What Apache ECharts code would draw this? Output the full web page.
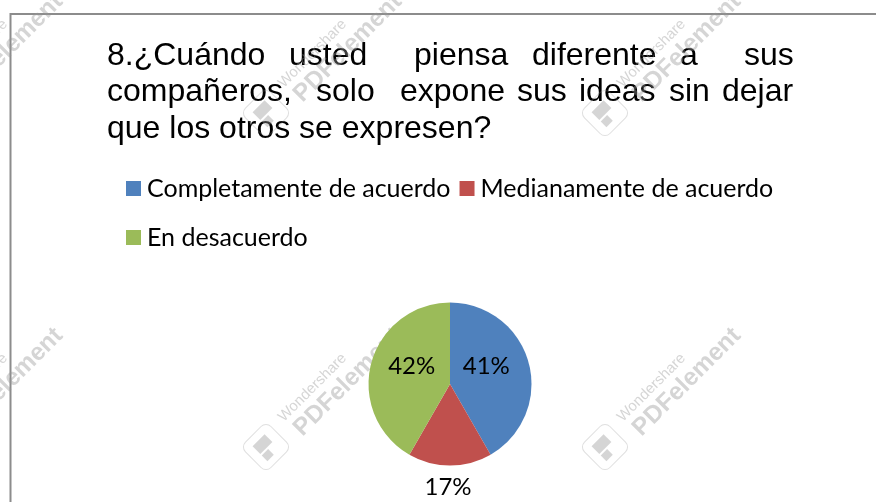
<!DOCTYPE html>
<html>
<head>
<meta charset="utf-8">
<style>
  html, body { margin: 0; padding: 0; background: #fff; }
  #chart { width: 876px; height: 502px; }
</style>
<script src="https://cdn.jsdelivr.net/npm/echarts@6/dist/echarts.min.js"></script>
</head>
<body>
<div id="chart"></div>
<script>
var categories = ["Completamente de acuerdo", "Medianamente de acuerdo", "En desacuerdo"];
// slice sizes as measured from the angles, labels as printed in the picture
var values = [41.7, 16.6, 41.7];
var valueLabels = ["41%", "17%", "42%"];
var colors = ["#4f81bd", "#c0504d", "#9bbb59"];

// the title is justified in the original, so every word gets its own x
var titleLine1 = [["8.¿Cuándo", 107], ["usted", 289], ["piensa", 414], ["diferente", 532], ["a", 680], ["sus", 744]];
var titleLine2 = [["compañeros,", 107], ["solo", 316], ["expone", 400], ["sus", 517], ["ideas", 579], ["sin", 669], ["dejar", 722]];
var titleLine3 = [["que los otros se expresen?", 107]];

var legendFont = "Lato";
var graphics = [];

// frame of the page, open at right and bottom
graphics.push({
  type: "polyline",
  shape: { points: [[10.5, 502], [10.5, 14], [876, 14]] },
  style: { stroke: "#8c8c8c", lineWidth: 2, fill: null }
});

function addTitleLine(words, y) {
  words.forEach(function (w) {
    graphics.push({
      type: "text",
      x: w[1],
      y: y,
      style: {
        text: w[0],
        fill: "#000",
        font: '32px "Liberation Sans"',
        verticalAlign: "middle"
      }
    });
  });
}
addTitleLine(titleLine1, 56);
addTitleLine(titleLine2, 92);
addTitleLine(titleLine3, 129);

// watermark tiles
function addWatermark(cx, cy) {
  var markColor = "rgba(150,150,150,0.4)";
  graphics.push({
    type: "group",
    x: cx,
    y: cy,
    rotation: Math.PI / 4,
    z: 50,
    children: [
      {
        type: "rect",
        shape: { x: -18, y: -18, width: 36, height: 36, r: 7 },
        style: { fill: "none", stroke: "rgba(150,150,150,0.3)", lineWidth: 1 }
      },
      { type: "rect", shape: { x: -9, y: -10, width: 17, height: 11 }, style: { fill: markColor } },
      { type: "rect", shape: { x: -9, y: 3, width: 9, height: 8 }, style: { fill: markColor } },
      {
        type: "text",
        x: 30,
        y: -9,
        style: { text: "Wondershare", fill: markColor, font: '15px "Liberation Sans"', verticalAlign: "middle" }
      },
      {
        type: "text",
        x: 33,
        y: 12,
        style: { text: "PDFelement", fill: markColor, font: 'bold 24.5px "Liberation Sans"', verticalAlign: "middle" }
      }
    ]
  });
}
[-73, 266, 605].forEach(function (x) {
  [113, 447].forEach(function (y) {
    addWatermark(x, y);
  });
});

var option = {
  animation: false,
  backgroundColor: "#fff",
  color: colors,
  legend: [
    {
      left: 121,
      top: 171,
      itemWidth: 15,
      itemHeight: 15,
      itemGap: 9,
      icon: "rect",
      data: [categories[0], categories[1]],
      textStyle: { fontFamily: legendFont, fontSize: 25, color: "#000", padding: [0, 0, 0, 1] }
    },
    {
      left: 121,
      top: 220,
      itemWidth: 15,
      itemHeight: 15,
      icon: "rect",
      data: [categories[2]],
      textStyle: { fontFamily: legendFont, fontSize: 25, color: "#000", padding: [0, 0, 0, 1] }
    }
  ],
  series: [
    {
      type: "pie",
      center: [450, 384],
      radius: [0, 81.5],
      startAngle: 90,
      clockwise: true,
      labelLine: { show: false },
      label: {
        position: "inside",
        color: "#000",
        fontFamily: legendFont,
        fontSize: 24,
        formatter: function (p) {
          return valueLabels[p.dataIndex];
        }
      },
      data: [
        { name: categories[0], value: values[0], label: { offset: [-6, -6] } },
        { name: categories[1], value: values[1], label: { offset: [-2, 60] } },
        { name: categories[2], value: values[2], label: { offset: [4, -6] } }
      ]
    }
  ],
  graphic: graphics
};

var myChart = echarts.init(document.getElementById("chart"), null, { renderer: "canvas" });
myChart.setOption(option);
</script>
</body>
</html>
